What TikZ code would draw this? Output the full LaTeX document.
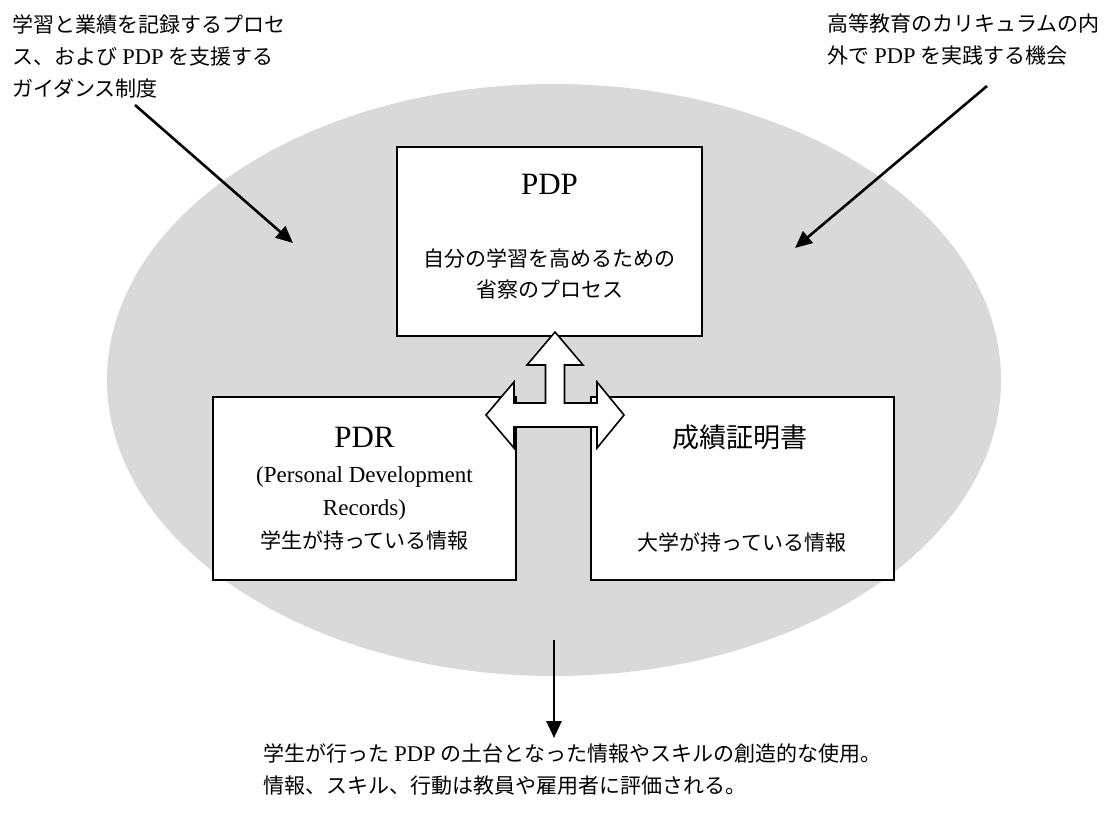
\documentclass[tikz,border=0pt]{standalone}
\usepackage{fontspec}
\setmainfont{Liberation Serif}
\newfontfamily\jp{Noto Sans CJK JP}
\newcommand{\lat}[1]{{\fontsize{22.5}{32}\selectfont #1}}
\usetikzlibrary{arrows.meta}
\definecolor{fieldgray}{HTML}{D9D9D9}
\begin{document}
\begin{tikzpicture}[x=1pt,y=-1pt,
  box/.style={draw=black,line width=1.8pt,fill=white,inner sep=0pt},
  txt/.style={inner sep=0pt,font=\fontsize{21}{32}\selectfont},
  ptr/.style={line width=2.6pt,-{Triangle[length=17pt,width=15pt]}},
  dblarrow/.style={draw=black,line width=1.6pt,fill=white,line join=miter}]
\useasboundingbox (0,0) rectangle (1107,822);
% background field
\fill[fieldgray] (554,380) ellipse [x radius=447, y radius=296];
% boxes
\node[box,minimum width=305pt,minimum height=189pt] (pdp) at (549.5,241.5) {};
\node[box,minimum width=303pt,minimum height=183pt] (pdr) at (364.5,488.5) {};
\node[box,minimum width=303pt,minimum height=183pt] (cert) at (742.5,488.5) {};
% box texts
\node[inner sep=0pt,font=\fontsize{31}{34}\selectfont] (pdptitle) at (549.5,184) {PDP};
\node[txt,align=center,font=\fontsize{21}{31}\selectfont\jp] (pdpbody) at (549.5,274) {自分の学習を高めるための\\省察のプロセス};
\node[inner sep=0pt,font=\fontsize{31}{34}\selectfont] (pdrtitle) at (364.5,437) {PDR};
\node[txt,align=center,font=\fontsize{23}{33}\selectfont] (pdrbody) at (364.5,508) {(Personal Development\\Records)\\{\fontsize{21}{31}\selectfont\jp 学生が持っている情報}};
\node[inner sep=0pt,font=\fontsize{27}{32}\selectfont\jp] (certtitle) at (740,437) {成績証明書};
\node[txt,font=\fontsize{21}{31}\selectfont\jp] (certbody) at (742,542) {大学が持っている情報};
% three-way hollow arrow
\draw[dblarrow] (555,332) -- (583,365) -- (564.5,365) -- (564.5,403) -- (597,403) -- (597,382)
  -- (624,415) -- (597,448) -- (597,427) -- (514,427) -- (514,448) -- (486,415) -- (514,382)
  -- (514,403) -- (545.5,403) -- (545.5,365) -- (527,365) -- cycle;
% outside texts
\node[txt,anchor=north west,align=left] (tl) at (12,15)
  {{\jp 学習と業績を記録するプロセ}\\{\jp ス、および} \lat{PDP} {\jp を支援する}\\{\jp ガイダンス制度}};
\node[txt,anchor=north west,align=left] (tr) at (827,14)
  {{\jp 高等教育のカリキュラムの内}\\{\jp 外で} \lat{PDP} {\jp を実践する機会}};
\node[txt,anchor=north west,align=left] (bt) at (263,744)
  {{\jp 学生が行った} \lat{PDP} {\jp の土台となった情報やスキルの創造的な使用。}\\{\jp 情報、スキル、行動は教員や雇用者に評価される。}};
% arrows
\coordinate (tlstart) at (135,105);
\coordinate (tlend) at (293,243);
\coordinate (trstart) at (987,86);
\coordinate (trend) at (795,248);
\coordinate (bstart) at (554,640);
\coordinate (bend) at (554,738);
\draw[ptr] (tlstart) -- (tlend);
\draw[ptr] (trstart) -- (trend);
\draw[ptr] (bstart) -- (bend);
\end{tikzpicture}
\end{document}
